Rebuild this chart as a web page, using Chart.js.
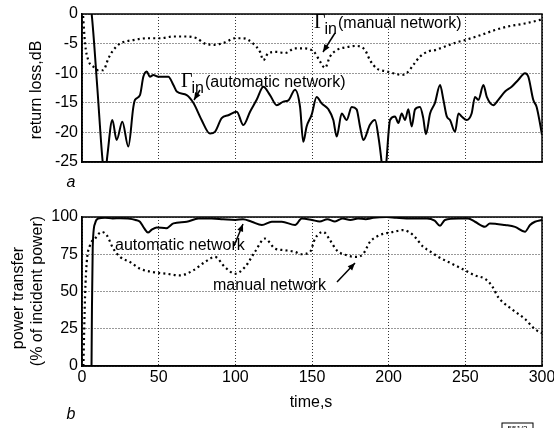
<!DOCTYPE html>
<html>
<head>
<meta charset="utf-8">
<script src="https://cdn.jsdelivr.net/npm/chart.js@4"></script>
<style>
  html, body { margin: 0; padding: 0; background: #fff; overflow: hidden; }
  #wrap { position: relative; width: 554px; height: 428px; overflow: hidden; }
  canvas { position: absolute; left: 0; }
  #lossChart { top: 0; }
  #powerChart { top: 190px; }
</style>
</head>
<body>
<div id="wrap">
  <canvas id="lossChart" width="554" height="190" style="width:554px;height:190px"></canvas>
  <canvas id="powerChart" width="570" height="238" style="width:570px;height:238px"></canvas>
</div>
<script>
// x axis (time, s)
const timeTicks = [0, 50, 100, 150, 200, 250, 300];

// (a) return loss, automatic network (solid)
const autoLossT = [5, 6.3, 10, 13.5, 15, 16.5, 19.8, 22.6, 26.3, 30.2, 33.5, 34.6, 37.8, 40, 42.2, 44.3, 46.5, 49.8,
  56.3, 59.6, 61.8, 68.3, 72.6, 78, 83.5, 86.7, 91.1, 95.4, 100.9, 105.2, 109.6, 113.9, 118.3, 122.6, 127, 131.3,
  134.6, 138.9, 142.2, 144.3, 146.5, 149.8, 153, 156.3, 160.7, 163.9, 166.1, 169.4, 172.6, 175.9, 179.1, 181.3,
  183.5, 187.8, 191.1, 193.3, 195.4, 196.5, 197.5, 198.5, 200.9, 204.1, 206.3, 208.5, 210.7, 212.8, 215, 217.2,
  220.4, 222.5, 224.3, 227, 230.2, 233.5, 235.7, 237.9, 240, 243.3, 245.5, 247.6, 250.9, 254.1, 256.3, 258.5,
  261.8, 264, 268.3, 271.5, 275.9, 280.2, 284.6, 288.9, 291.1, 294.3, 296.5, 298.7, 300];
const autoLossDb = [2, 0, -12.5, -25, -27.5, -24, -17.9, -21.3, -18.2, -22.4, -15.7, -14.5, -13.7, -10.6, -9.7, -10.6, -10.3, -10.6,
  -10.6, -12, -13.1, -13.7, -15, -17.9, -20.2, -19.9, -17.6, -17.1, -16.5, -18.75, -16.5, -14.5, -12.3, -13.7, -15.4, -14.8,
  -14.6, -12.8, -15.7, -21.6, -19, -17, -14, -15.1, -16.1, -17.9, -20.7, -16.8, -17.9, -15.7, -16.1, -19,
  -21.3, -18.7, -17.9, -20.7, -25, -28, -28, -25, -17.9, -17.3, -18.4, -16.8, -17.9, -16.1, -19, -16.1,
  -15.7, -17.5, -20.3, -16.8, -15, -12, -14.5, -17.3, -17.9, -19.9, -16.8, -17.3, -17.9, -16.8, -14, -14.5,
  -12, -14, -15.4, -14.5, -13.1, -12.3, -11.1, -10, -10.6, -14.5, -15.7, -18.5, -20.4];

// (a) return loss, manual network (dotted)
const manLossT = [0.5, 2, 4.1, 7.4, 10.6, 13.9, 17.2, 20.4, 24.8, 33.5, 42.2, 50.9, 59.6, 68.3, 74.8, 80.2, 86.7, 93.3,
  99.8, 105.2, 111.7, 116.1, 118.3, 121.5, 127, 132.4, 138.9, 144.3, 149.8, 152, 155.2, 158.5, 161.7, 166.1, 172.6,
  179.1, 184.6, 187.8, 192.2, 198.7, 203, 208.5, 211.7, 216.1, 220.4, 225.9, 230.2, 236.7, 245.5, 249.8, 260.7,
  269.4, 278, 288.9, 298.7, 300];
const manLossDb = [0.5, -5, -7.8, -8.9, -9.5, -9.5, -7.5, -6.1, -5, -4.4, -4.1, -4.1, -3.8, -3.8, -4.1, -5, -5.2, -4.8,
  -4.1, -4.1, -5, -6.4, -7.8, -6.6, -6.4, -6.6, -5.8, -5.8, -6.1, -6.6, -8, -9.1, -7.2, -6.1, -5.6,
  -5.4, -6.1, -7.8, -9.2, -9.7, -10, -10.3, -10, -8.6, -7.2, -6.3, -6.1, -5.5, -4.7, -4.4, -3.5,
  -2.7, -2.1, -1.6, -1.0, -0.9];

// (b) power transfer, automatic network (solid)
const autoPowT = [6.2, 6.5, 7, 8.5, 10.6, 15, 20, 25, 30, 35, 37.8, 40.5, 43, 45.5, 48.7, 55, 59.6, 68.3, 75.9, 84.5,
  92, 100, 105, 110.7, 117.3, 123.8, 130.3, 139, 143.3, 150, 155, 160, 165, 170, 175, 180, 185, 190, 198.7, 205,
  215, 225, 230, 233.5, 236.7, 245.5, 251.8, 256.3, 262.8, 266, 275.9, 282.4, 288.9, 292.2, 295.4, 300];
const autoPowPct = [-2, 40, 80, 95.7, 99, 99.5, 99, 99.2, 99, 98, 96.8, 92.5, 89.6, 91.5, 93, 92.5, 95.7, 96.8, 99, 99,
  98.5, 98, 98.5, 96.8, 94.6, 96.8, 96.8, 94.6, 99, 98, 97, 98.5, 97, 99, 98, 99, 98.5, 99.5, 100, 99.5,
  99, 99, 97.5, 94.1, 98, 99, 99, 96.8, 93.4, 95.7, 94.6, 93.4, 90.1, 94.6, 96.8, 98];

// (b) power transfer, manual network (dotted)
const manPowT = [0.9, 2, 3.1, 5.2, 8.5, 12.8, 16.1, 20.4, 24.8, 31.3, 37.8, 46.5, 55.2, 63.9, 72.6, 80.2, 86.7, 93.2,
  99.8, 106.3, 112.8, 119.3, 125.9, 132.4, 138.9, 143, 148.7, 152, 157.4, 161.7, 166.1, 172.6, 179.1, 183.5, 187.8,
  194.2, 203, 209.5, 216, 222.6, 225.9, 232.4, 241.1, 249.8, 256.3, 262.8, 267.2, 271.5, 280.2, 288.9, 295.4, 300];
const manPowPct = [0, 47, 69.8, 81, 85.5, 90, 87.8, 78.8, 73.2, 69.8, 65.3, 63, 61.9, 60.8, 64.2, 69.8, 73.2, 66.4,
  61.9, 66.4, 76.6, 85.5, 78.8, 77.7, 76.6, 75, 76.6, 85.5, 90, 84.5, 77.7, 74.3, 73.2, 75.4, 83.3,
  87.8, 90, 91.2, 87.8, 79.9, 77.7, 73.2, 68.7, 64.2, 60.8, 58.5, 54, 46.1, 38.2, 31.5, 24.7, 22];

const FONT = '"Liberation Sans", Arial, Helvetica, sans-serif';
const SERIF = '"Liberation Serif", "Times New Roman", serif';

function toPoints(xs, ys) {
  return xs.map((x, i) => ({ x: x, y: ys[i] }));
}

function solidSet(xs, ys) {
  return {
    data: toPoints(xs, ys),
    borderColor: "#000",
    borderWidth: 2,
    pointRadius: 0,
    cubicInterpolationMode: "monotone",
    fill: false,
  };
}

function dottedSet(xs, ys) {
  return {
    data: toPoints(xs, ys),
    borderColor: "#000",
    borderWidth: 2.2,
    borderDash: [2, 3.2],
    pointRadius: 0,
    cubicInterpolationMode: "monotone",
    fill: false,
  };
}

function gridOpts() {
  return { color: "#333", lineWidth: 1, drawTicks: false };
}

function borderOpts() {
  return { color: "#000", width: 1.5, dash: [1, 2] };
}

function xAxis(showLabels, height) {
  return {
    type: "linear",
    min: 0,
    max: 300,
    afterBuildTicks: (scale) => {
      scale.ticks = timeTicks.map((v) => ({ value: v }));
    },
    ticks: {
      display: showLabels,
      color: "#000",
      font: { family: FONT, size: 16 },
      padding: 2,
      maxRotation: 0,
    },
    grid: gridOpts(),
    border: borderOpts(),
    afterFit: (scale) => {
      scale.height = height;
    },
  };
}

function yAxis(min, max, step) {
  return {
    min: min,
    max: max,
    ticks: {
      stepSize: step,
      color: "#000",
      font: { family: FONT, size: 16 },
      padding: 4,
    },
    grid: gridOpts(),
    border: borderOpts(),
    afterFit: (scale) => {
      scale.width = 82;
    },
  };
}

function drawArrow(ctx, x1, y1, x2, y2) {
  const ang = Math.atan2(y2 - y1, x2 - x1);
  ctx.lineWidth = 1.5;
  ctx.beginPath();
  ctx.moveTo(x1, y1);
  ctx.lineTo(x2, y2);
  ctx.stroke();
  ctx.beginPath();
  ctx.moveTo(x2, y2);
  ctx.lineTo(x2 - 8 * Math.cos(ang - 0.4), y2 - 8 * Math.sin(ang - 0.4));
  ctx.lineTo(x2 - 8 * Math.cos(ang + 0.4), y2 - 8 * Math.sin(ang + 0.4));
  ctx.closePath();
  ctx.fill();
}

// Γ with "in" subscript followed by the rest of the label
function drawGamma(ctx, x, y, rest) {
  ctx.textAlign = "left";
  ctx.textBaseline = "alphabetic";
  ctx.font = `20px ${SERIF}`;
  ctx.fillText("\u0393", x, y);
  ctx.font = `16px ${FONT}`;
  ctx.fillText("in", x + 10.5, y + 6);
  ctx.fillText(rest, x + 24, y);
}

function drawRotated(ctx, text, x, y) {
  ctx.save();
  ctx.translate(x, y);
  ctx.rotate(-Math.PI / 2);
  ctx.textAlign = "center";
  ctx.textBaseline = "middle";
  ctx.fillText(text, 0, 0);
  ctx.restore();
}

function framePlugin(extra) {
  return {
    id: "frame",
    afterDraw(chart) {
      const { ctx, chartArea: a } = chart;
      ctx.save();
      ctx.strokeStyle = "#000";
      ctx.fillStyle = "#000";
      ctx.lineWidth = 1.5;
      ctx.strokeRect(a.left, a.top, a.right - a.left, a.bottom - a.top);
      extra(ctx);
      ctx.restore();
    },
  };
}

new Chart(document.getElementById("lossChart"), {
  type: "line",
  data: {
    datasets: [solidSet(autoLossT, autoLossDb), dottedSet(manLossT, manLossDb)],
  },
  options: {
    responsive: false,
    animation: false,
    layout: { padding: { left: 0, right: 12, top: 14, bottom: 0 } },
    plugins: { legend: { display: false }, tooltip: { enabled: false } },
    scales: {
      x: xAxis(false, 28),
      y: yAxis(-25, 0, 5),
    },
  },
  plugins: [
    framePlugin((ctx) => {
      drawGamma(ctx, 314, 28, "(manual network)");
      drawArrow(ctx, 335, 33, 323, 52);
      drawGamma(ctx, 181, 87, "(automatic network)");
      drawArrow(ctx, 200, 90, 194, 100);
      ctx.font = `16px ${FONT}`;
      drawRotated(ctx, "return loss,dB", 37, 90);
      ctx.font = `italic 16px ${FONT}`;
      ctx.textAlign = "center";
      ctx.textBaseline = "middle";
      ctx.fillText("a", 71, 183);
    }),
  ],
});

new Chart(document.getElementById("powerChart"), {
  type: "line",
  data: {
    datasets: [solidSet(autoPowT, autoPowPct), dottedSet(manPowT, manPowPct)],
  },
  options: {
    responsive: false,
    animation: false,
    layout: { padding: { left: 0, right: 28, top: 27, bottom: 0 } },
    plugins: { legend: { display: false }, tooltip: { enabled: false } },
    scales: {
      x: xAxis(true, 62),
      y: yAxis(0, 100, 25),
    },
  },
  plugins: [
    framePlugin((ctx) => {
      ctx.font = `16px ${FONT}`;
      ctx.textAlign = "left";
      ctx.textBaseline = "alphabetic";
      ctx.fillText("automatic network", 115, 60);
      drawArrow(ctx, 234, 56, 243, 34);
      ctx.fillText("manual network", 213, 100);
      drawArrow(ctx, 337, 92, 355, 73);
      drawRotated(ctx, "power transfer", 19, 108);
      drawRotated(ctx, "(% of incident power)", 38, 101);
      ctx.textAlign = "center";
      ctx.textBaseline = "middle";
      ctx.fillText("time,s", 311, 213);
      ctx.font = `italic 16px ${FONT}`;
      ctx.fillText("b", 71, 225);
      // figure tag at the bottom right corner
      ctx.lineWidth = 1;
      ctx.strokeRect(502, 233, 31, 12);
      ctx.font = `8px ${FONT}`;
      ctx.fillText("551/3", 517.5, 239);
    }),
  ],
});
</script>
</body>
</html>
